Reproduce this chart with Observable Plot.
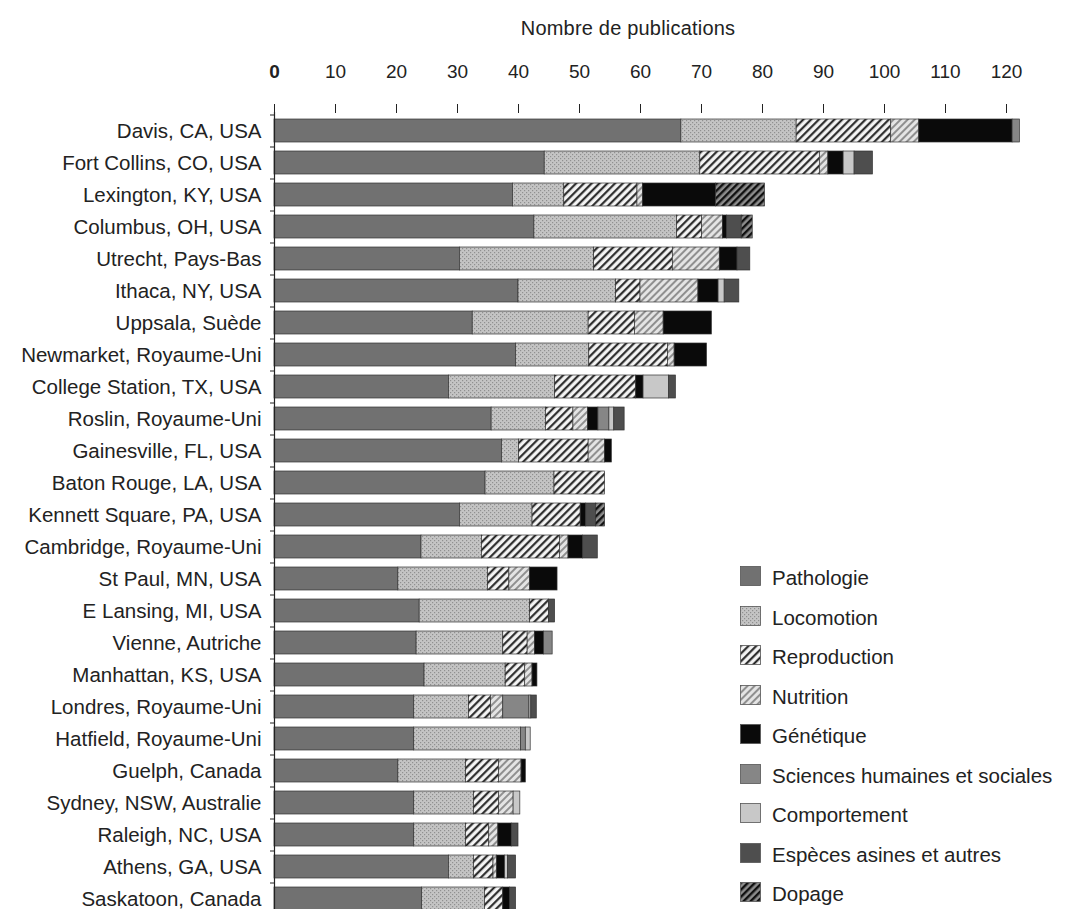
<!DOCTYPE html>
<html>
<head>
<meta charset="utf-8">
<script src="https://cdn.jsdelivr.net/npm/d3@7"></script>
<script src="https://cdn.jsdelivr.net/npm/@observablehq/plot@0.6"></script>
<style>
  html, body { margin: 0; padding: 0; background: #fff; }
  body { font-family: "Liberation Sans", Arial, sans-serif; color: #222; }
  #wrap { position: relative; width: 1065px; height: 909px; overflow: hidden; }
  #title { position: relative; height: 50px; }
  #title span { position: absolute; left: 628px; top: 18px; transform: translateX(-50%); font-size: 20px; line-height: 1; white-space: nowrap; letter-spacing: 0.2px; }
  #legend { position: absolute; left: 740px; top: 566px; }
  .item { position: absolute; left: 0; height: 20px; white-space: nowrap; }
  .item svg { position: absolute; left: 0; top: 0; }
  .item span { position: absolute; left: 32px; top: 2px; font-size: 20.5px; line-height: 1; }
</style>
</head>
<body>
<svg width="0" height="0" style="position:absolute">
  <defs>
    <pattern id="pLoco" patternUnits="userSpaceOnUse" width="4" height="4">
      <rect width="4" height="4" fill="#c4c4c4"/>
      <rect x="0" y="0" width="1.2" height="1.2" fill="#909090"/>
      <rect x="2" y="2" width="1.2" height="1.2" fill="#909090"/>
    </pattern>
    <pattern id="pRepro" patternUnits="userSpaceOnUse" width="5.5" height="5.5" patternTransform="rotate(45)">
      <rect width="5.5" height="5.5" fill="#f4f4f4"/>
      <line x1="1.2" y1="0" x2="1.2" y2="5.5" stroke="#1a1a1a" stroke-width="2"/>
    </pattern>
    <pattern id="pNutr" patternUnits="userSpaceOnUse" width="5" height="5" patternTransform="rotate(45)">
      <rect width="5" height="5" fill="#e4e4e4"/>
      <line x1="1" y1="0" x2="1" y2="5" stroke="#7a7a7a" stroke-width="1.6"/>
    </pattern>
    <pattern id="pDop" patternUnits="userSpaceOnUse" width="5" height="5" patternTransform="rotate(45)">
      <rect width="5" height="5" fill="#8c8c8c"/>
      <line x1="1.2" y1="0" x2="1.2" y2="5" stroke="#111" stroke-width="2.4"/>
    </pattern>
  </defs>
</svg>
<div id="wrap">
  <div id="title"><span>Nombre de publications</span></div>
  <div id="chart"></div>
  <div id="legend"></div>
</div>
<script>
const cities = [
  "Davis, CA, USA", "Fort Collins, CO, USA", "Lexington, KY, USA", "Columbus, OH, USA",
  "Utrecht, Pays-Bas", "Ithaca, NY, USA", "Uppsala, Suède", "Newmarket, Royaume-Uni",
  "College Station, TX, USA", "Roslin, Royaume-Uni", "Gainesville, FL, USA", "Baton Rouge, LA, USA",
  "Kennett Square, PA, USA", "Cambridge, Royaume-Uni", "St Paul, MN, USA", "E Lansing, MI, USA",
  "Vienne, Autriche", "Manhattan, KS, USA", "Londres, Royaume-Uni", "Hatfield, Royaume-Uni",
  "Guelph, Canada", "Sydney, NSW, Australie", "Raleigh, NC, USA", "Athens, GA, USA", "Saskatoon, Canada"
];
const categories = [
  "Pathologie", "Locomotion", "Reproduction", "Nutrition", "Génétique",
  "Sciences humaines et sociales", "Comportement", "Espèces asines et autres", "Dopage"
];
const pathologie   = [66.7, 44.3, 39.1, 42.6, 30.4, 40.0, 32.5, 39.6, 28.6, 35.6, 37.3, 34.6, 30.4, 24.1, 20.3, 23.8, 23.3, 24.6, 22.9, 22.9, 20.3, 22.9, 22.9, 28.6, 24.2];
const locomotion   = [18.9, 25.5, 8.4, 23.4, 22.0, 16.0, 19.0, 12.0, 17.4, 8.9, 2.8, 11.3, 11.9, 9.9, 14.7, 18.1, 14.2, 13.3, 9.0, 17.5, 11.1, 9.8, 8.5, 4.1, 10.3];
const reproduction = [15.5, 19.6, 12.0, 4.1, 12.9, 4.0, 7.6, 12.9, 13.3, 4.5, 11.4, 8.3, 7.9, 12.8, 3.5, 3.1, 4.0, 3.2, 3.6, 0, 5.4, 4.1, 3.8, 3.2, 3.0];
const nutrition    = [4.6, 1.4, 0.9, 3.4, 7.7, 9.5, 4.7, 1.1, 0, 2.4, 2.7, 0, 0, 1.4, 3.4, 0, 1.2, 1.2, 2.0, 0, 3.7, 2.4, 1.5, 0.6, 0];
const genetique    = [15.3, 2.5, 12.0, 0.7, 2.9, 3.3, 7.9, 5.3, 1.2, 1.7, 1.1, 0, 0.9, 2.4, 4.5, 0, 1.5, 0.8, 0, 0, 0.7, 0, 2.2, 1.3, 1.1];
const sciences     = [1.2, 0, 0, 0, 0, 0, 0, 0, 0, 1.8, 0, 0, 0, 0, 0, 0, 1.4, 0, 4.3, 0.8, 0, 0, 0, 0, 0];
const comportement = [0, 1.8, 0, 0, 0, 1.0, 0, 0, 4.2, 0.8, 0, 0, 0, 0, 0, 0, 0, 0, 0.3, 0.8, 0, 1.1, 0, 0.5, 0];
const especes      = [0, 3.0, 0, 2.4, 2.1, 2.4, 0, 0, 1.1, 1.7, 0, 0, 1.6, 2.4, 0, 1.0, 0, 0, 0.9, 0, 0, 0, 1.1, 1.3, 1.0];
const dopage       = [0, 0, 8.0, 1.8, 0, 0, 0, 0, 0, 0, 0, 0, 1.5, 0, 0, 0, 0, 0, 0, 0, 0, 0, 0, 0, 0];
const xTicks = [0, 10, 20, 30, 40, 50, 60, 70, 80, 90, 100, 110, 120];

const series = [pathologie, locomotion, reproduction, nutrition, genetique, sciences, comportement, especes, dopage];
const fills = ["#717171", "url(#pLoco)", "url(#pRepro)", "url(#pNutr)", "#0a0a0a", "#868686", "#c8c8c8", "#4e4e4e", "url(#pDop)"];

const rows = [];
cities.forEach((city, i) => {
  categories.forEach((cat, j) => {
    const v = series[j][i];
    if (v > 0) rows.push({city, cat, value: v});
  });
});

const font = "'Liberation Sans', Arial, sans-serif";
const chart = Plot.plot({
  width: 1065,
  height: 867,
  marginTop: 62,
  marginLeft: 274,
  marginRight: 28.5,
  marginBottom: 0,
  style: {fontFamily: font, color: "#222", background: "transparent", overflow: "visible"},
  x: {domain: [0, 125], axis: null},
  y: {domain: cities, axis: null, paddingInner: 0.28125, paddingOuter: 0.21875},
  color: {domain: categories, range: fills},
  marks: [
    Plot.barX(rows, Plot.stackX({y: "city", x: "value", fill: "cat", stroke: "#333", strokeWidth: 0.7})),
    Plot.ruleX([0], {stroke: "#222", strokeWidth: 1.2}),
    Plot.axisX({anchor: "top", ticks: xTicks.slice(1), tickSize: 9, tickPadding: 26, line: true, fontSize: 19, label: null, stroke: "#222", fill: "#222"}),
    Plot.axisX({anchor: "top", ticks: xTicks.slice(0, 1), tickSize: 9, tickPadding: 26, fontSize: 19, fontWeight: "bold", label: null, stroke: "#222", fill: "#222"}),
    Plot.axisY({anchor: "left", tickSize: 0, tickPadding: 13, fontSize: 20.5, label: null, fill: "#222"}),
    Plot.axisY({anchor: "left", tickSize: 4, tickFormat: () => "", dy: -16, label: null, stroke: "#222"})
  ]
});
document.getElementById("chart").appendChild(chart);

const legend = document.getElementById("legend");
categories.forEach((cat, j) => {
  const item = document.createElement("div");
  item.className = "item";
  item.style.top = (j * 39.5) + "px";
  item.innerHTML = `<svg width="21" height="20"><rect x="0.5" y="0.5" width="20" height="19" fill="${fills[j]}" stroke="#555" stroke-width="0.8"/></svg><span>${cat}</span>`;
  legend.appendChild(item);
});
</script>
</body>
</html>
